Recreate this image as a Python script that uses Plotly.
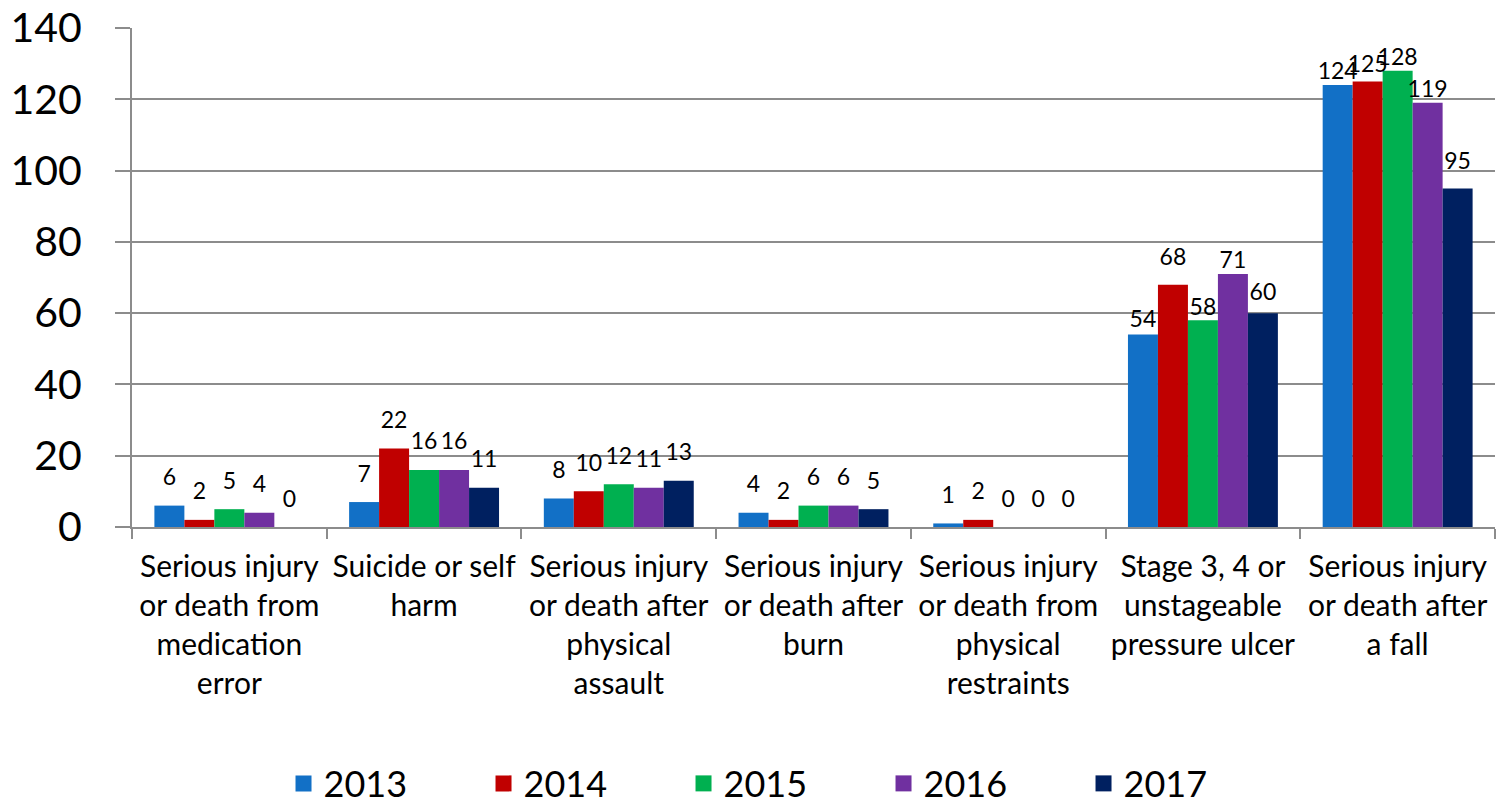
import plotly.graph_objects as go

categories = [
    "Serious injury<br>or death from<br>medication<br>error",
    "Suicide or self<br>harm",
    "Serious injury<br>or death after<br>physical<br>assault",
    "Serious injury<br>or death after<br>burn",
    "Serious injury<br>or death from<br>physical<br>restraints",
    "Stage 3, 4 or<br>unstageable<br>pressure ulcer",
    "Serious injury<br>or death after<br>a fall",
]
years = ["2013", "2014", "2015", "2016", "2017"]
v2013 = [6, 7, 8, 4, 1, 54, 124]
v2014 = [2, 22, 10, 2, 2, 68, 125]
v2015 = [5, 16, 12, 6, 0, 58, 128]
v2016 = [4, 16, 11, 6, 0, 71, 119]
v2017 = [0, 11, 13, 5, 0, 60, 95]
series = [v2013, v2014, v2015, v2016, v2017]
colors = ["#1270C6", "#C00000", "#00B050", "#7030A0", "#002060"]

# label lift (invisible marker size, px) controlling the gap between bar top and its label
lift2013 = [22, 22, 22, 22, 22, 2, 0]
lift2014 = [22, 22, 22, 22, 22, 20, 4]
lift2015 = [22, 22, 22, 22, 22, 0, 0]
lift2016 = [22, 22, 22, 22, 22, 0, 0]
lift2017 = [22, 22, 22, 22, 22, 10, 20]
lifts = [lift2013, lift2014, lift2015, lift2016, lift2017]

FONT = "Lato"

fig = go.Figure()
for name, vals, col in zip(years, series, colors):
    fig.add_trace(go.Bar(
        name=name, x=categories, y=vals,
        marker=dict(color=col, line=dict(width=0)),
        showlegend=False, legendgroup=name, offsetgroup=name,
    ))
# data labels, grouped like the bars
for name, vals, lift in zip(years, series, lifts):
    fig.add_trace(go.Scatter(
        name=name, x=categories, y=vals, mode="markers+text",
        marker=dict(size=lift, opacity=0),
        text=[str(v) for v in vals], textposition="top center",
        textfont=dict(family=FONT, size=23, color="#000000"),
        cliponaxis=False, showlegend=False, offsetgroup=name,
        hoverinfo="skip",
    ))
# legend entries with larger square swatches
for name, col in zip(years, colors):
    fig.add_trace(go.Scatter(
        name=name, x=[None], y=[None], mode="markers",
        marker=dict(symbol="square", size=24, color=col),
        showlegend=True, legendgroup=name, hoverinfo="skip",
    ))

fig.update_layout(
    width=1501, height=804,
    barmode="group", bargap=0.23, bargroupgap=0,
    scattermode="group", scattergap=0.23,
    paper_bgcolor="white", plot_bgcolor="white",
    margin=dict(l=132, r=6, t=28, b=277, autoexpand=False),
    font=dict(family=FONT, color="#000000"),
    legend=dict(
        orientation="h", x=0.478, xanchor="center", y=-0.514, yanchor="middle",
        font=dict(family=FONT, size=36, color="#000000"),
        entrywidth=155, itemwidth=30, itemsizing="trace",
    ),
    showlegend=True,
)
fig.update_yaxes(
    range=[0, 140], dtick=20,
    showgrid=True, gridcolor="#8C8C8C", gridwidth=2,
    showline=True, linecolor="#8C8C8C", linewidth=2,
    ticks="outside", ticklen=15, tickcolor="#8C8C8C", tickwidth=2,
    ticklabelstandoff=25,
    tickfont=dict(family=FONT, size=41, color="#000000"),
    zeroline=False,
)
fig.update_xaxes(
    showline=True, linecolor="#8C8C8C", linewidth=2,
    ticks="outside", ticklen=10, tickcolor="#8C8C8C", tickwidth=2,
    tickson="boundaries",
    ticklabelstandoff=12,
    tickfont=dict(family=FONT, size=30, color="#000000"),
)

fig.write_html("out.html", config={"displayModeBar": False},
               post_script="document.body.style.margin='0';")
